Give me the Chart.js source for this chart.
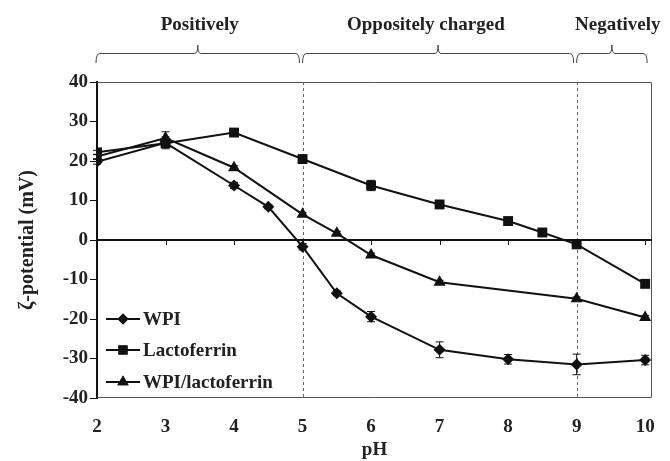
<!DOCTYPE html>
<html>
<head>
<meta charset="utf-8">
<script src="https://cdn.jsdelivr.net/npm/chart.js@4/dist/chart.umd.min.js"></script>
<style>
  html, body { margin: 0; padding: 0; background: #fff; }
  #wrap { width: 670px; height: 461px; }
</style>
</head>
<body>
<div id="wrap"><canvas id="canvasZeta" width="670" height="461"></canvas></div>
<script>
// pH values for each series
var phWpi = [2, 3, 4, 4.5, 5, 5.5, 6, 7, 8, 9, 10];
var phLacto = [2, 3, 4, 5, 6, 7, 8, 8.5, 9, 10];
var phMix = [2, 3, 4, 5, 5.5, 6, 7, 9, 10];

// zeta potential (mV) and error bars
var wpiValues = [19.8, 24.6, 13.8, 8.4, -1.7, -13.5, -19.4, -27.8, -30.2, -31.5, -30.4];
var wpiErrors = [0.6, 1.5, 0.8, 0.5, 0.8, 0.6, 1.3, 2.0, 1.2, 2.6, 1.2];
var lactoValues = [22.2, 24.5, 27.2, 20.5, 13.8, 9.0, 4.8, 1.9, -1.1, -11.1];
var lactoErrors = [0.5, 0.5, 0.5, 0.5, 1.3, 0.5, 0.5, 0.5, 0.5, 0.5];
var mixValues = [21.1, 25.8, 18.3, 6.5, 1.7, -3.8, -10.7, -14.9, -19.6];
var mixErrors = [0.5, 1.6, 0.5, 0.5, 0.5, 0.5, 0.5, 0.5, 0.5];

var seriesLabels = ["WPI", "Lactoferrin", "WPI/lactoferrin"];
var xTicks = [2, 3, 4, 5, 6, 7, 8, 9, 10];
var dashedAt = [5, 9];

// charge regions shown with braces over the plot
var regionLabels = ["Positively", "Oppositely charged", "Negatively"];
var regionStart = [2, 5, 9];
var regionEnd = [5, 9, 10];
var regionLabelPh = [3.5, 6.8, 9.6];

var fontFamily = "'Liberation Serif', 'Times New Roman', serif";

function toPoints(xs, ys) {
  var pts = [];
  for (var i = 0; i < xs.length; i++) {
    pts.push({ x: xs[i], y: ys[i] });
  }
  return pts;
}

function makeDataset(label, xs, ys, errs, style, radius) {
  return {
    label: label,
    data: toPoints(xs, ys),
    errors: errs,
    borderColor: "#111",
    backgroundColor: "#111",
    borderWidth: 2,
    pointStyle: style,
    pointRadius: radius,
    pointBorderWidth: 0,
    pointBackgroundColor: "#111",
    fill: false,
    tension: 0
  };
}

// frame, zero line, dashed markers, error bars, braces, legend
var decorPlugin = {
  id: "decor",
  beforeDatasetsDraw: function(chart) {
    var ctx = chart.ctx;
    var area = chart.chartArea;
    var xs = chart.scales.x;
    var ys = chart.scales.y;
    ctx.save();

    // plot box
    ctx.strokeStyle = "#555";
    ctx.lineWidth = 1;
    ctx.beginPath();
    ctx.moveTo(area.left, area.top + 0.5);
    ctx.lineTo(area.right - 0.5, area.top + 0.5);
    ctx.lineTo(area.right - 0.5, area.bottom - 0.5);
    ctx.lineTo(area.left, area.bottom - 0.5);
    ctx.stroke();

    // dashed lines
    ctx.strokeStyle = "#666";
    ctx.setLineDash([3, 3]);
    for (var d = 0; d < dashedAt.length; d++) {
      var dx = Math.round(xs.getPixelForValue(dashedAt[d])) + 0.5;
      ctx.beginPath();
      ctx.moveTo(dx, area.top);
      ctx.lineTo(dx, area.bottom);
      ctx.stroke();
    }
    ctx.setLineDash([]);

    // zero line with tick marks below it
    var y0 = ys.getPixelForValue(0);
    ctx.strokeStyle = "#111";
    ctx.lineWidth = 2;
    ctx.beginPath();
    ctx.moveTo(area.left, y0);
    ctx.lineTo(area.right, y0);
    ctx.stroke();
    ctx.lineWidth = 1;
    for (var t = 0; t < xTicks.length; t++) {
      var tx = Math.round(xs.getPixelForValue(xTicks[t])) + 0.5;
      ctx.beginPath();
      ctx.moveTo(tx, y0);
      ctx.lineTo(tx, y0 + 5);
      ctx.stroke();
    }

    // error bars
    ctx.strokeStyle = "#111";
    ctx.lineWidth = 1;
    chart.data.datasets.forEach(function(ds) {
      for (var i = 0; i < ds.data.length; i++) {
        var px = xs.getPixelForValue(ds.data[i].x);
        var hi = ys.getPixelForValue(ds.data[i].y + ds.errors[i]);
        var lo = ys.getPixelForValue(ds.data[i].y - ds.errors[i]);
        ctx.beginPath();
        ctx.moveTo(px, hi);
        ctx.lineTo(px, lo);
        ctx.moveTo(px - 4, hi);
        ctx.lineTo(px + 4, hi);
        ctx.moveTo(px - 4, lo);
        ctx.lineTo(px + 4, lo);
        ctx.stroke();
      }
    });

    // braces and region labels
    ctx.strokeStyle = "#444";
    ctx.lineWidth = 1;
    var by = 53.5;
    for (var r = 0; r < regionLabels.length; r++) {
      var x1 = xs.getPixelForValue(regionStart[r]) + (r == 0 ? -1 : 0);
      var x2 = xs.getPixelForValue(regionEnd[r]) - (r == 2 ? -2 : 3);
      var xm = (x1 + x2) / 2;
      ctx.beginPath();
      ctx.moveTo(x1, 63);
      ctx.quadraticCurveTo(x1, by, x1 + 4, by);
      ctx.lineTo(xm - 3, by);
      ctx.quadraticCurveTo(xm, by, xm, 45);
      ctx.quadraticCurveTo(xm, by, xm + 3, by);
      ctx.lineTo(x2 - 4, by);
      ctx.quadraticCurveTo(x2, by, x2, 63);
      ctx.stroke();

      ctx.fillStyle = "#222";
      ctx.font = "bold 19px " + fontFamily;
      ctx.textAlign = "center";
      ctx.textBaseline = "middle";
      ctx.fillText(regionLabels[r], xs.getPixelForValue(regionLabelPh[r]), 25);
    }
    ctx.restore();
  },
  afterDatasetsDraw: function(chart) {
    var ctx = chart.ctx;
    var area = chart.chartArea;
    ctx.save();
    var rowY = [319, 350, 382];
    chart.data.datasets.forEach(function(ds, i) {
      var lx = area.left + 9;
      ctx.strokeStyle = "#111";
      ctx.lineWidth = 2;
      ctx.beginPath();
      ctx.moveTo(lx, rowY[i]);
      ctx.lineTo(lx + 34, rowY[i]);
      ctx.stroke();
      ctx.fillStyle = "#111";
      Chart.helpers.drawPoint(ctx, { pointStyle: ds.pointStyle, radius: ds.pointRadius - 0.5, rotation: 0, borderWidth: 0 }, lx + 17, rowY[i]);
      ctx.fill();
      ctx.fillStyle = "#222";
      ctx.font = "bold 19px " + fontFamily;
      ctx.textAlign = "left";
      ctx.textBaseline = "middle";
      ctx.fillText(ds.label, lx + 37, rowY[i] + 1);
    });
    ctx.restore();
  }
};

var zetaConfig = {
  type: "line",
  data: {
    datasets: [
      makeDataset(seriesLabels[0], phWpi, wpiValues, wpiErrors, "rectRot", 6),
      makeDataset(seriesLabels[1], phLacto, lactoValues, lactoErrors, "rect", 7),
      makeDataset(seriesLabels[2], phMix, mixValues, mixErrors, "triangle", 7)
    ]
  },
  options: {
    responsive: false,
    animation: false,
    layout: { padding: { top: 82, right: 18, left: 0, bottom: 0 } },
    plugins: {
      legend: { display: false },
      tooltip: { enabled: false }
    },
    scales: {
      x: {
        type: "linear",
        min: 2,
        max: 10.1,
        afterBuildTicks: function(scale) {
          scale.ticks = xTicks.map(function(v) { return { value: v }; });
        },
        afterFit: function(scale) { scale.height = 63; },
        grid: { display: false },
        border: { display: false },
        ticks: {
          color: "#222",
          padding: 10,
          maxRotation: 0,
          font: { family: fontFamily, size: 19, weight: "bold" }
        },
        title: {
          display: true,
          text: "pH",
          color: "#222",
          padding: { top: 0, bottom: 0 },
          font: { family: fontFamily, size: 19, weight: "bold" }
        }
      },
      y: {
        min: -40,
        max: 40,
        afterFit: function(scale) { scale.width = 97; },
        grid: {
          drawOnChartArea: false,
          drawTicks: true,
          tickLength: 7,
          color: "#111",
          lineWidth: 1
        },
        border: { display: true, color: "#111", width: 2 },
        ticks: {
          stepSize: 10,
          color: "#222",
          padding: 2,
          font: { family: fontFamily, size: 19, weight: "bold" }
        },
        title: {
          display: true,
          text: "ζ-potential (mV)",
          color: "#222",
          padding: { top: 16, bottom: 0 },
          font: { family: fontFamily, size: 20, weight: "bold" }
        }
      }
    }
  },
  plugins: [decorPlugin]
};

var zetaChart = new Chart(document.getElementById("canvasZeta"), zetaConfig);
</script>
</body>
</html>
